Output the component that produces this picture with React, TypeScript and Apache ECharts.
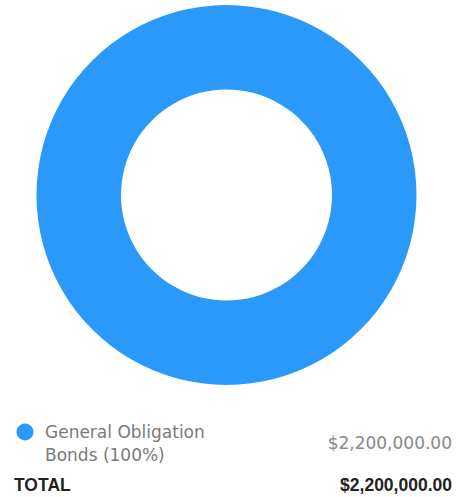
import React, { useEffect, useRef } from "react";
import * as echarts from "echarts";

const categories = ["General Obligation Bonds"];
const values = [2200000];
const colors = ["#2B99F9"];
const totalLabel = "TOTAL";

const fmt = (v: number) =>
  "$" + v.toLocaleString("en-US", { minimumFractionDigits: 2, maximumFractionDigits: 2 });

export default function App() {
  const ref = useRef<HTMLDivElement>(null);
  useEffect(() => {
    if (!ref.current) return;
    const chart = echarts.init(ref.current, null, { renderer: "svg" });
    const total = values.reduce((a, b) => a + b, 0);
    const legendEls: any[] = [];
    categories.forEach((c, i) => {
      const pct = Math.round((values[i] / total) * 100);
      const words = c.split(" ");
      const line1 = words.slice(0, 2).join(" ");
      const line2 = words.slice(2).join(" ") + ` (${pct}%)`;
      const y0 = 432 + i * 50;
      legendEls.push(
        { type: "circle", shape: { cx: 25, cy: y0, r: 8.5 }, style: { fill: colors[i] } },
        {
          type: "text",
          x: 45,
          y: y0 + 11.5,
          style: {
            text: line1 + "\n" + line2,
            fill: "#7a7a7a",
            font: "normal 17px 'DejaVu Sans'",
            lineHeight: 23,
            verticalAlign: "middle",
            textAlign: "left",
          },
        },
        {
          type: "text",
          x: 452,
          y: y0 + 11,
          style: {
            text: fmt(values[i]),
            fill: "#888",
            font: "normal 17px 'DejaVu Sans'",
            textAlign: "right",
            verticalAlign: "middle",
          },
        }
      );
    });
    legendEls.push(
      {
        type: "text",
        x: 14,
        y: 485,
        style: {
          text: totalLabel,
          fill: "#222",
          font: "bold 17.5px 'Liberation Sans'",
          textAlign: "left",
          verticalAlign: "middle",
        },
      },
      {
        type: "text",
        x: 452,
        y: 485,
        style: {
          text: fmt(total),
          fill: "#222",
          font: "bold 17.5px 'Liberation Sans'",
          textAlign: "right",
          verticalAlign: "middle",
        },
      }
    );
    chart.setOption({
      animation: false,
      color: colors,
      series: [
        {
          type: "pie",
          center: [226.5, 195],
          radius: [105.5, 190],
          label: { show: false },
          labelLine: { show: false },
          emphasis: { disabled: true },
          itemStyle: { borderWidth: 0 },
          data: categories.map((c, i) => ({ name: c, value: values[i] })),
        },
      ],
      graphic: legendEls,
    });
    return () => chart.dispose();
  }, []);
  return (
    <div
      ref={ref}
      style={{ position: "absolute", left: 0, top: 0, width: 460, height: 497 }}
    />
  );
}
